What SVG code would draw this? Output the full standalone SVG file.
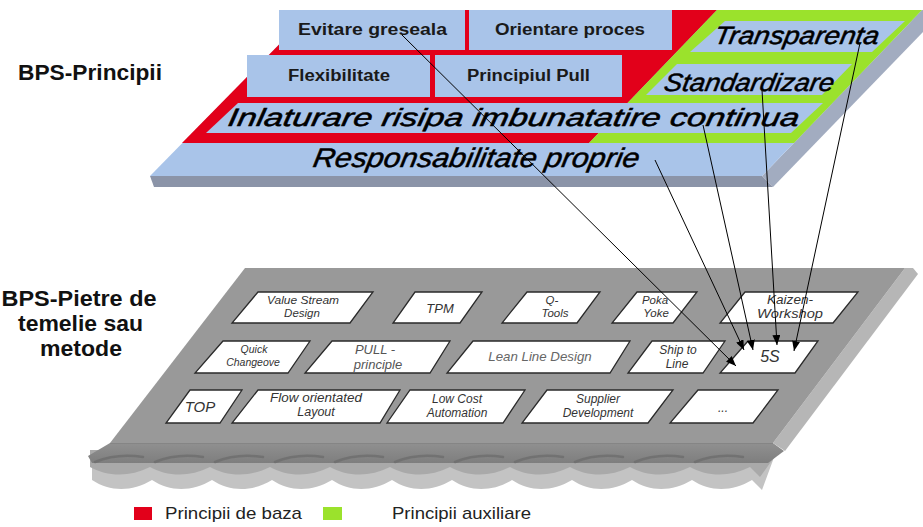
<svg xmlns="http://www.w3.org/2000/svg" width="923" height="527" viewBox="0 0 923 527">
<defs>
<style>
.lbl{font-family:"Liberation Sans",Arial,sans-serif;font-weight:bold;font-size:22px;fill:#111;}
.pb{fill:#A9C4E9;}
.bt{font-family:"Liberation Sans",Arial,sans-serif;font-weight:bold;font-size:16px;fill:#1a1a1a;}
.it{font-family:"Liberation Sans",Arial,sans-serif;font-style:italic;fill:#000;stroke:#000;stroke-width:0.5;}
.m{fill:#fff;stroke:#2a2a2a;stroke-width:1.3;}
.mt{font-family:"Liberation Sans",Arial,sans-serif;font-style:italic;fill:#333;text-anchor:middle;font-size:11.5px;}
.conn{stroke:#000;stroke-width:1;fill:none;marker-end:url(#ah);}
.leg{font-family:"Liberation Sans",Arial,sans-serif;font-size:17px;fill:#222;}
.crest{fill:none;stroke:#6e6e6e;stroke-width:2.5;stroke-linecap:round;opacity:0.85;}
</style>
<marker id="ah" viewBox="0 0 10 8" refX="10" refY="4" markerWidth="10" markerHeight="8" markerUnits="userSpaceOnUse" orient="auto"><path d="M0,0 L10,4 L0,8 Z" fill="#000"/></marker>
<linearGradient id="front" x1="0" y1="0" x2="0" y2="1"><stop offset="0" stop-color="#909090"/><stop offset="1" stop-color="#7e7e7e"/></linearGradient>
</defs>
<rect width="923" height="527" fill="#fff"/>

<!-- side labels -->
<g id="label-principii"><text class="lbl" x="18" y="80" textLength="144" lengthAdjust="spacingAndGlyphs">BPS-Principii</text></g>
<g id="label-pietre">
<text class="lbl" x="79" y="306" text-anchor="middle" textLength="155" lengthAdjust="spacingAndGlyphs">BPS-Pietre de</text>
<text class="lbl" x="80.5" y="331" text-anchor="middle" textLength="125" lengthAdjust="spacingAndGlyphs">temelie sau</text>
<text class="lbl" x="81" y="356" text-anchor="middle" textLength="82" lengthAdjust="spacingAndGlyphs">metode</text>
</g>

<!-- foundation slab -->
<g id="foundation">
<path fill="#C3C3C3" d="M92,450 L92,480 c18,12 40,12 60,0 c18,12 40,12 60,0 c18,12 40,12 60,0 c18,12 40,12 60,0 c18,12 40,12 60,0 c18,12 40,12 60,0 c18,12 40,12 60,0 c18,12 40,12 60,0 c18,12 40,12 60,0 c18,12 40,12 60,0 c18,12 40,12 60,0 L762,490 L776,452 Z"/>
<path fill="#A9A9A9" d="M90,450 L90,467 c18,10 40,10 60,0 c18,10 40,10 60,0 c18,10 40,10 60,0 c18,10 40,10 60,0 c18,10 40,10 60,0 c18,10 40,10 60,0 c18,10 40,10 60,0 c18,10 40,10 60,0 c18,10 40,10 60,0 c18,10 40,10 60,0 c18,10 40,10 60,0 L760,477 L778,452 Z"/>
<path fill="url(#front)" d="M110,443 L773,443 L784,451 L768,463 L92,463 L88,456 Z"/>
<path class="crest" d="M95,462 q22,-9 48,-5 M155,462 q22,-9 48,-5 M215,462 q22,-9 48,-5 M275,462 q22,-9 48,-5 M335,462 q22,-9 48,-5 M395,462 q22,-9 48,-5 M455,462 q22,-9 48,-5 M515,462 q22,-9 48,-5 M575,462 q22,-9 48,-5 M635,462 q22,-9 48,-5 M695,462 q22,-9 48,-5"/>
<polygon fill="#B6B6B6" points="905,268 913,268 918,274 785,451 773,443"/>
<polygon fill="#999999" points="245,268 905,268 773,443 110,443"/>
<line x1="110" y1="443.5" x2="773" y2="443.5" stroke="#858585" stroke-width="1"/>
</g>

<!-- method nodes -->
<g id="m-vsd"><polygon class="m" points="258,292 373,292 350,323 232,323"/><text class="mt" x="303" y="304" textLength="72" lengthAdjust="spacingAndGlyphs">Value Stream</text><text class="mt" x="302" y="317">Design</text></g>
<g id="m-tpm"><polygon class="m" points="415,292 482,292 460,323 393,323"/><text class="mt" x="440" y="313" style="font-size:13px">TPM</text></g>
<g id="m-qtools"><polygon class="m" points="527,292 600,292 577,323 502,323"/><text class="mt" x="552" y="304">Q-</text><text class="mt" x="555" y="317">Tools</text></g>
<g id="m-poka"><polygon class="m" points="637,292 697,292 673,323 612,323"/><text class="mt" x="655" y="304">Poka</text><text class="mt" x="656" y="317">Yoke</text></g>
<g id="m-kaizen"><polygon class="m" points="745,292 858,292 833,323 720,323"/><text class="mt" x="790" y="304" style="font-size:12.5px" textLength="46" lengthAdjust="spacingAndGlyphs">Kaizen-</text><text class="mt" x="790" y="318" style="font-size:12.5px" textLength="66" lengthAdjust="spacingAndGlyphs">Workshop</text></g>

<g id="m-quick"><polygon class="m" points="223,341 310,341 288,373 195,373"/><text class="mt" x="254" y="353" style="font-size:10.5px">Quick</text><text class="mt" x="253" y="366" style="font-size:10.5px">Changeove</text></g>
<g id="m-pull"><polygon class="m" points="332,341 450,341 430,373 305,373"/><text class="mt" x="375" y="354" style="font-size:13px;fill:#555">PULL -</text><text class="mt" x="378" y="369" style="font-size:13px;fill:#555">principle</text></g>
<g id="m-lean"><polygon class="m" points="473,341 630,341 610,373 447,373"/><text class="mt" x="540" y="361" style="font-size:13.3px;fill:#666">Lean Line Design</text></g>
<g id="m-ship"><polygon class="m" points="652,341 725,341 703,373 628,373"/><text class="mt" x="678" y="354" style="font-size:12px">Ship to</text><text class="mt" x="677" y="368" style="font-size:12px">Line</text></g>
<g id="m-5s"><polygon class="m" points="748,341 818,341 795,373 720,373"/><text class="mt" x="770" y="362" style="font-size:16px">5S</text></g>

<g id="m-top"><polygon class="m" points="190,390 242,390 220,423 166,423"/><text class="mt" x="200" y="412" style="font-size:15px">TOP</text></g>
<g id="m-flow"><polygon class="m" points="258,390 400,390 380,423 232,423"/><text class="mt" x="316" y="402" style="font-size:12.5px" textLength="92" lengthAdjust="spacingAndGlyphs">Flow orientated</text><text class="mt" x="316" y="416" style="font-size:12.5px">Layout</text></g>
<g id="m-lca"><polygon class="m" points="410,390 525,390 503,423 387,423"/><text class="mt" x="457" y="403" style="font-size:12px">Low Cost</text><text class="mt" x="457" y="417" style="font-size:12px">Automation</text></g>
<g id="m-supplier"><polygon class="m" points="547,390 673,390 648,423 522,423"/><text class="mt" x="598" y="403" style="font-size:12px">Supplier</text><text class="mt" x="598" y="417" style="font-size:12px">Development</text></g>
<g id="m-more"><polygon class="m" points="698,390 778,390 753,423 670,423"/><text class="mt" x="723" y="412" style="font-size:12px">...</text></g>

<!-- principles slab -->
<g id="principles-slab">
<polygon fill="#A2ACC0" points="922,10 923,10 923,32 773,187 762,176"/>
<polygon fill="#8B94A8" points="150,176 762,176 773,187 154,187"/>
<polygon class="pb" points="313,10 922,10 762,176 150,176"/>
<polygon fill="#E2001A" points="313,10 717,10 589,143 182,143"/>
<polygon fill="#9BE22C" points="717,10 922,10 794,143 589,143"/>
</g>

<g id="p-evitare"><rect class="pb" x="279" y="10" width="186" height="40"/><text class="bt" x="298" y="35" textLength="149" lengthAdjust="spacingAndGlyphs">Evitare greseala</text></g>
<g id="p-orientare"><rect class="pb" x="469" y="10" width="203" height="40"/><text class="bt" x="495" y="35" textLength="150" lengthAdjust="spacingAndGlyphs">Orientare proces</text></g>
<g id="p-flex"><rect class="pb" x="247" y="55" width="183" height="42"/><text class="bt" x="288" y="81" textLength="102" lengthAdjust="spacingAndGlyphs">Flexibilitate</text></g>
<g id="p-pull"><rect class="pb" x="435" y="55" width="187" height="42"/><text class="bt" x="467" y="81" textLength="123" lengthAdjust="spacingAndGlyphs">Principiul Pull</text></g>
<g id="p-transparenta"><polygon class="pb" points="725,21 905,21 872,52 690,52"/><text class="it" transform="translate(713,44) skewX(-10)" style="font-size:25px" textLength="165" lengthAdjust="spacingAndGlyphs">Transparenta</text></g>
<g id="p-standardizare"><polygon class="pb" points="677,64 852,64 822,95 646,95"/><text class="it" transform="translate(663,91) skewX(-10)" style="font-size:25px" textLength="170" lengthAdjust="spacingAndGlyphs">Standardizare</text></g>
<g id="p-inlaturare"><polygon class="pb" points="238,103 823,103 791,133 206,133"/><text class="it" transform="translate(227,126) skewX(-10)" style="font-size:25px" textLength="571" lengthAdjust="spacingAndGlyphs">Inlaturare risipa imbunatatire continua</text></g>
<g id="p-responsabilitate"><text class="it" transform="translate(312,167) skewX(-10)" style="font-size:27px" textLength="326" lengthAdjust="spacingAndGlyphs">Responsabilitate proprie</text></g>

<!-- connectors -->
<g id="connectors">
<line class="conn" x1="402" y1="35" x2="736" y2="366"/>
<line class="conn" x1="655" y1="160" x2="744" y2="350"/>
<line class="conn" x1="703" y1="125" x2="753" y2="350"/>
<line class="conn" x1="762" y1="90" x2="777" y2="345"/>
<line class="conn" x1="860" y1="43" x2="794" y2="351"/>
</g>

<!-- legend -->
<g id="legend">
<rect x="134" y="507" width="18" height="13" fill="#E2001A"/>
<text class="leg" x="165" y="519" textLength="137" lengthAdjust="spacingAndGlyphs">Principii de baza</text>
<rect x="323" y="507" width="19" height="13" fill="#9BE22C"/>
<text class="leg" x="392" y="519" textLength="139" lengthAdjust="spacingAndGlyphs">Principii auxiliare</text>
</g>
</svg>
